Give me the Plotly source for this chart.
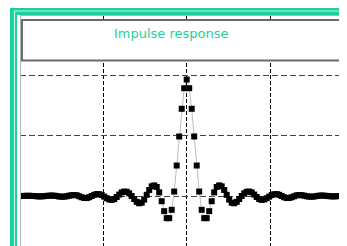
import plotly.graph_objects as go

# ---- data ----
impulse_left = [-0.001, 0.000, 0.001, 0.002, 0.002, 0.001, 0.000, -0.002, -0.003, -0.003,
                -0.001, 0.001, 0.003, 0.004, 0.003, 0.000, -0.004, -0.006, -0.005, -0.002,
                0.003, 0.007, 0.008, 0.006, -0.002, -0.010, -0.016, -0.017, -0.010, 0.000,
                0.010, 0.016, 0.015, 0.008, -0.005, -0.018, -0.028, -0.032, -0.025, -0.008,
                0.012, 0.030, 0.037, 0.035, 0.022, 0.000, -0.025, -0.048, -0.060, -0.055,
                -0.030, 0.010, 0.050, 0.080, 0.088, 0.075, 0.030, -0.043, -0.125, -0.183,
                -0.183, -0.114, 0.037, 0.252, 0.492, 0.721, 0.891]
impulse_peak = [0.963]
impulse_right = [0.891, 0.721, 0.492, 0.252, 0.037, -0.114, -0.183, -0.183, -0.125, -0.043,
                 0.030, 0.075, 0.088, 0.080, 0.050, 0.010, -0.030, -0.055, -0.060, -0.048,
                 -0.025, 0.000, 0.022, 0.035, 0.037, 0.030, 0.012, -0.008, -0.025, -0.032,
                 -0.028, -0.018, -0.005, 0.008, 0.015, 0.016, 0.010, 0.000, -0.010, -0.017,
                 -0.016, -0.010, -0.002, 0.006, 0.008, 0.007, 0.003, -0.002, -0.005, -0.006,
                 -0.004, 0.000, 0.003, 0.004, 0.003, 0.001, -0.001, -0.003, -0.003, -0.002,
                 0.000, 0.001, 0.002, 0.002]
values = impulse_left + impulse_peak + impulse_right
sample_index = list(range(len(values)))
center_index = len(impulse_left)
title_text = "Impulse response"

# ---- layout geometry (page pixels; the page body has an 8px margin) ----
OFF = 8
W, H = 347 - OFF, 246 - OFF
L, T, R, B = 20 - OFF, 15 - OFF, 0, 0
PW, PH = W - L - R, H - T - B

def px(p):  # page x pixel -> paper
    return (p - OFF - L) / PW

def py(p):  # page y pixel -> paper
    return 1 - (p - OFF - T) / PH

TEAL = "#1ecf9f"

fig = go.Figure()
fig.add_trace(go.Scatter(
    x=sample_index, y=values, mode="lines+markers",
    line=dict(color="#bdbdbd", width=1),
    marker=dict(symbol="square", size=6, color="black", line=dict(width=0)),
    showlegend=False, hoverinfo="skip",
))

shapes = []
# teal double border (left and top)
shapes.append(dict(type="line", xref="paper", yref="paper", x0=px(13.5), x1=px(13.5),
                   y0=py(8), y1=py(400), line=dict(color=TEAL, width=7), layer="above"))
shapes.append(dict(type="line", xref="paper", yref="paper", x0=px(10), x1=px(500),
                   y0=py(11.5), y1=py(11.5), line=dict(color=TEAL, width=7), layer="above"))
shapes.append(dict(type="line", xref="paper", yref="paper", x0=px(14.5), x1=px(14.5),
                   y0=py(11), y1=py(400), line=dict(color="#bff3e5", width=1.2), layer="above"))
shapes.append(dict(type="line", xref="paper", yref="paper", x0=px(14.5), x1=px(500),
                   y0=py(11), y1=py(11), line=dict(color="#bff3e5", width=1.2), layer="above"))
# plot area edges
shapes.append(dict(type="line", xref="paper", yref="paper", x0=px(20.5), x1=px(20.5),
                   y0=py(15.5), y1=py(400), line=dict(color="#b4b4b4", width=1), layer="above"))
shapes.append(dict(type="line", xref="paper", yref="paper", x0=px(20.5), x1=px(500),
                   y0=py(15.5), y1=py(15.5), line=dict(color="#b4b4b4", width=1), layer="above"))
# title box
shapes.append(dict(type="rect", xref="paper", yref="paper", x0=px(22), x1=px(341),
                   y0=py(60.5), y1=py(20), fillcolor="white",
                   line=dict(color="#6a6a6a", width=2), layer="above"))

fig.update_layout(
    width=W, height=H,
    margin=dict(l=L, r=R, t=T, b=B, pad=0),
    paper_bgcolor="white", plot_bgcolor="white",
    shapes=shapes,
    annotations=[dict(text=title_text, xref="paper", yref="paper",
                      x=px(171.5), y=py(33), xanchor="center", yanchor="middle",
                      showarrow=False,
                      font=dict(family="DejaVu Sans", size=13, color=TEAL))],
    xaxis=dict(range=[center_index - 66.68, center_index - 66.68 + PW / 2.5],
               tick0=center_index, dtick=33.4,
               showgrid=True, gridcolor="black", gridwidth=1, griddash="4px,2px",
               showticklabels=False, zeroline=False, showline=False, ticks=""),
    yaxis=dict(range=[-0.413, 1.496], tick0=0, dtick=0.5,
               showgrid=True, gridcolor="#444444", gridwidth=1, griddash="6px,3px",
               showticklabels=False, zeroline=False, showline=False, ticks=""),
)

fig.write_html("out.html")
